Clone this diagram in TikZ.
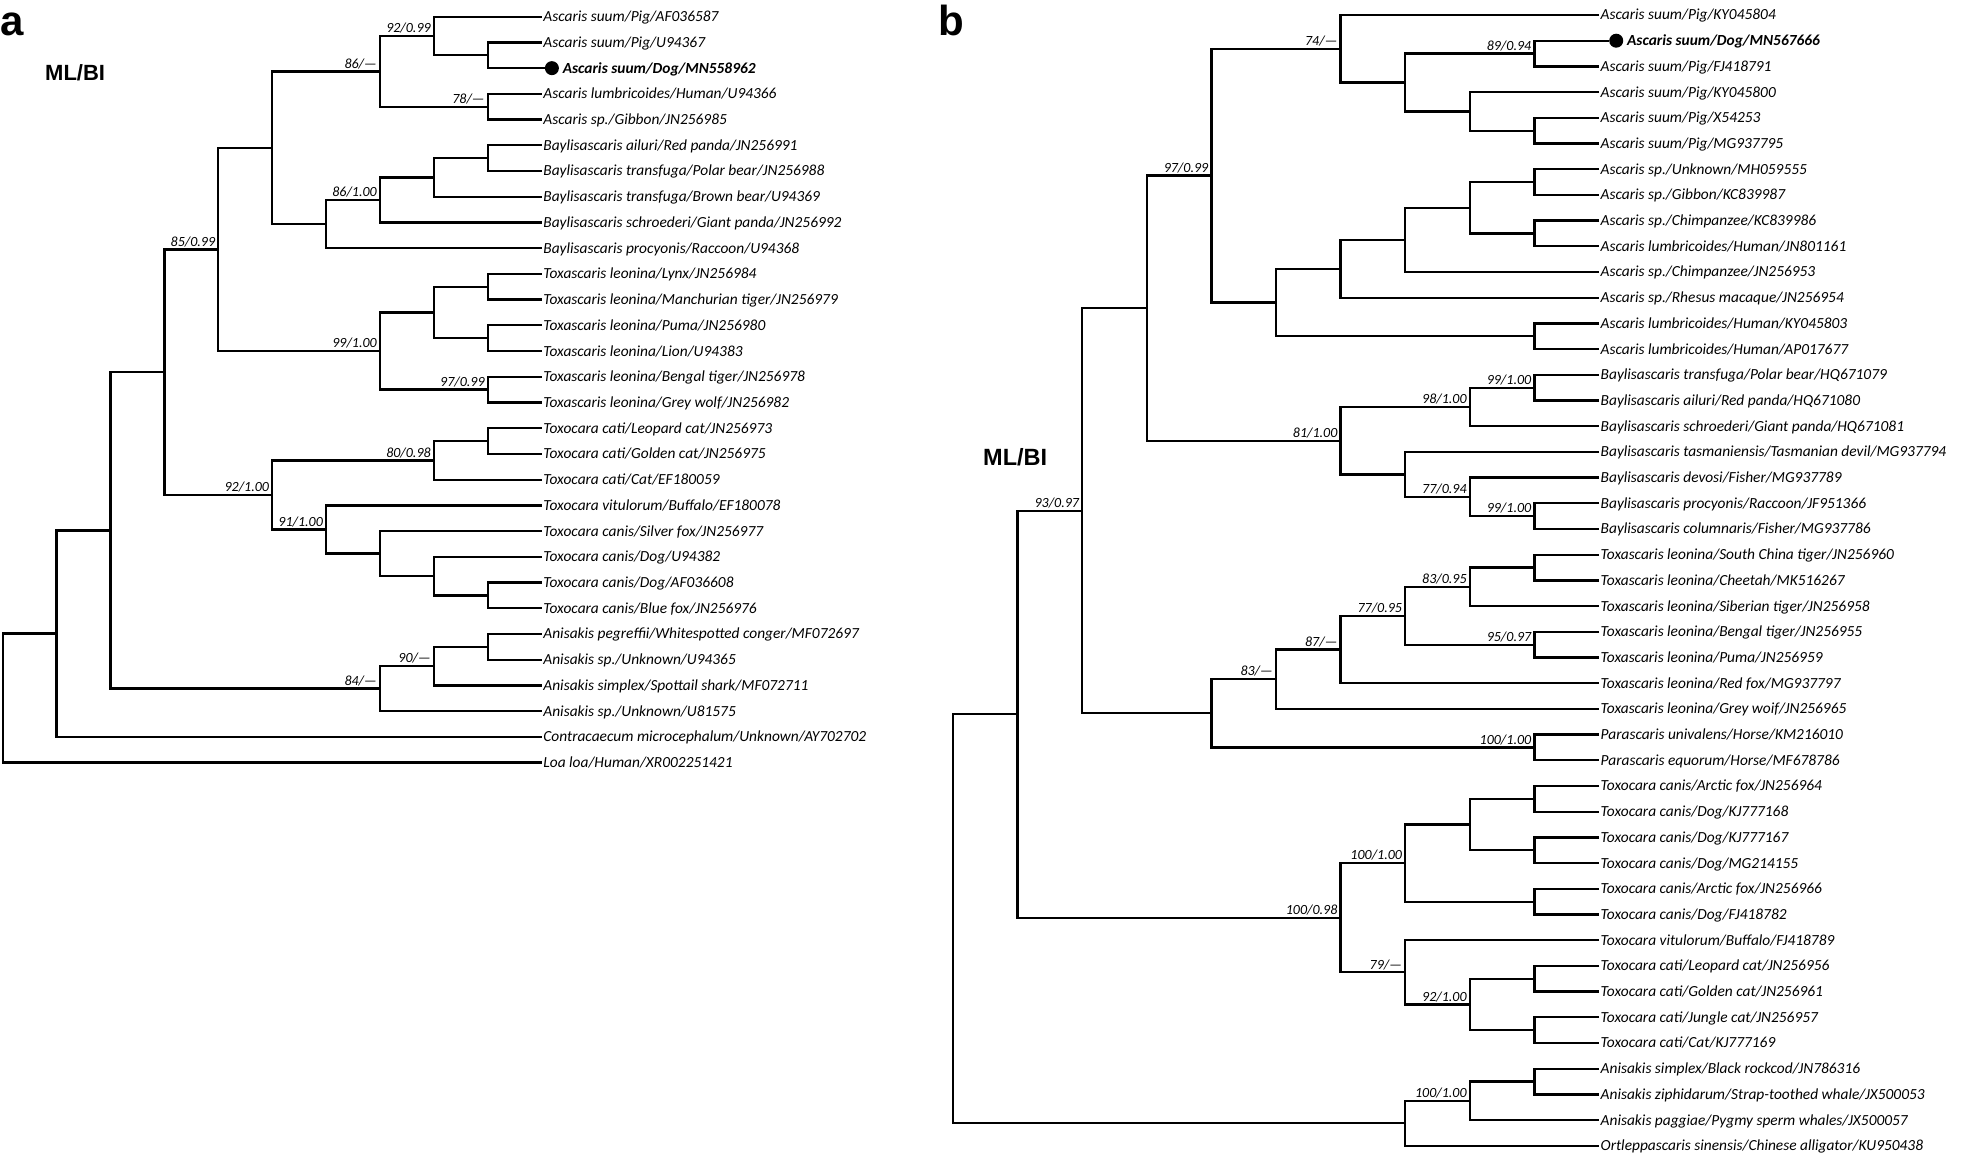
\documentclass[tikz,border=0pt]{standalone}
\usepackage{fontspec}
\setmainfont{Carlito}
\newfontfamily\headfont{Liberation Sans}
\usetikzlibrary{positioning}

\begin{document}
\begin{tikzpicture}[
    x=1pt, y=-1pt,
    leaf/.style={
        anchor=west,
        inner xsep=1.5pt,
        inner ysep=0pt,
        text height=9.9pt,
        text depth=0pt,
        font=\fontsize{15.4}{18}\selectfont\itshape
    },
    boldleaf/.style={
        leaf,
        font=\fontsize{15.4}{18}\selectfont\bfseries\itshape
    },
    seqdot/.style={
        circle,
        fill,
        inner sep=0pt,
        minimum size=14pt,
        anchor=west
    },
    support/.style={
        anchor=base east,
        inner sep=0pt,
        xshift=-3pt,
        yshift=3.2pt,
        font=\fontsize{14}{16}\selectfont\itshape
    },
    branch/.style={
        line width=2.3pt
    },
    panel/.style={
        anchor=base west,
        inner sep=0pt,
        font=\headfont\fontsize{42}{48}\selectfont\bfseries
    },
    method/.style={
        anchor=base west,
        inner sep=0pt,
        font=\headfont\bfseries
    }
]

\useasboundingbox (0,0) rectangle (1961,1157);

\node[panel] (panela) at (0.4,35) {a};
\node[panel] (panelb) at (938,35) {b};
\node[method, font=\headfont\fontsize{22}{26}\selectfont\bfseries] (mla) at (45,80) {ML/BI};
\node[method, font=\headfont\fontsize{23.5}{28}\selectfont\bfseries] (mlb) at (983,465) {ML/BI};

% tree a
\begin{scope}[shift={(2.7,-9.02)}, x=53.9pt, y=-25.72pt]

\node[leaf] (a1) at (10,1) {Ascaris suum/Pig/AF036587};
\node[leaf] (a2) at (10,2) {Ascaris suum/Pig/U94367};
\node[seqdot, xshift=3pt] (dota3) at (10,3) {};
\node[boldleaf, right=2pt of dota3] (a3) {Ascaris suum/Dog/MN558962};
\node[leaf] (a4) at (10,4) {Ascaris lumbricoides/Human/U94366};
\node[leaf] (a5) at (10,5) {Ascaris sp./Gibbon/JN256985};
\node[leaf] (a6) at (10,6) {Baylisascaris ailuri/Red panda/JN256991};
\node[leaf] (a7) at (10,7) {Baylisascaris transfuga/Polar bear/JN256988};
\node[leaf] (a8) at (10,8) {Baylisascaris transfuga/Brown bear/U94369};
\node[leaf] (a9) at (10,9) {Baylisascaris schroederi/Giant panda/JN256992};
\node[leaf] (a10) at (10,10) {Baylisascaris procyonis/Raccoon/U94368};
\node[leaf] (a11) at (10,11) {Toxascaris leonina/Lynx/JN256984};
\node[leaf] (a12) at (10,12) {Toxascaris leonina/Manchurian tiger/JN256979};
\node[leaf] (a13) at (10,13) {Toxascaris leonina/Puma/JN256980};
\node[leaf] (a14) at (10,14) {Toxascaris leonina/Lion/U94383};
\node[leaf] (a15) at (10,15) {Toxascaris leonina/Bengal tiger/JN256978};
\node[leaf] (a16) at (10,16) {Toxascaris leonina/Grey wolf/JN256982};
\node[leaf] (a17) at (10,17) {Toxocara cati/Leopard cat/JN256973};
\node[leaf] (a18) at (10,18) {Toxocara cati/Golden cat/JN256975};
\node[leaf] (a19) at (10,19) {Toxocara cati/Cat/EF180059};
\node[leaf] (a20) at (10,20) {Toxocara vitulorum/Buffalo/EF180078};
\node[leaf] (a21) at (10,21) {Toxocara canis/Silver fox/JN256977};
\node[leaf] (a22) at (10,22) {Toxocara canis/Dog/U94382};
\node[leaf] (a23) at (10,23) {Toxocara canis/Dog/AF036608};
\node[leaf] (a24) at (10,24) {Toxocara canis/Blue fox/JN256976};
\node[leaf] (a25) at (10,25) {Anisakis pegreffii/Whitespotted conger/MF072697};
\node[leaf] (a26) at (10,26) {Anisakis sp./Unknown/U94365};
\node[leaf] (a27) at (10,27) {Anisakis simplex/Spottail shark/MF072711};
\node[leaf] (a28) at (10,28) {Anisakis sp./Unknown/U81575};
\node[leaf] (a29) at (10,29) {Contracaecum microcephalum/Unknown/AY702702};
\node[leaf] (a30) at (10,30) {Loa loa/Human/XR002251421};

\coordinate (L1) at (9,2.5);
\coordinate (L2) at (8,1.75);
\coordinate (L3) at (9,4.5);
\coordinate (L4) at (7,3.125);
\coordinate (L5) at (9,6.5);
\coordinate (L6) at (8,7.25);
\coordinate (L7) at (7,8.125);
\coordinate (L8) at (6,9.0625);
\coordinate (L9) at (5,6.09375);
\coordinate (L10) at (9,11.5);
\coordinate (L11) at (9,13.5);
\coordinate (L12) at (8,12.5);
\coordinate (L13) at (9,15.5);
\coordinate (L14) at (7,14);
\coordinate (L15) at (4,10.046875);
\coordinate (L16) at (9,17.5);
\coordinate (L17) at (8,18.25);
\coordinate (L18) at (9,23.5);
\coordinate (L19) at (8,22.75);
\coordinate (L20) at (7,21.875);
\coordinate (L21) at (6,20.9375);
\coordinate (L22) at (5,19.59375);
\coordinate (L23) at (3,14.8203125);
\coordinate (L24) at (9,25.5);
\coordinate (L25) at (8,26.25);
\coordinate (L26) at (7,27.125);
\coordinate (L27) at (2,20.97265625);
\coordinate (L28) at (1,24.986328125);
\coordinate (L29) at (0,27.4931640625);

\draw[branch] (a2.west) -| (L1) |- (dota3.west);
\draw[branch] (a1.west) -| (L2) |- (L1);
\draw[branch] (a4.west) -| (L3) |- (a5.west);
\draw[branch] (L2) -| (L4) |- (L3);
\draw[branch] (a6.west) -| (L5) |- (a7.west);
\draw[branch] (L5) -| (L6) |- (a8.west);
\draw[branch] (L6) -| (L7) |- (a9.west);
\draw[branch] (L7) -| (L8) |- (a10.west);
\draw[branch] (L4) -| (L9) |- (L8);
\draw[branch] (a11.west) -| (L10) |- (a12.west);
\draw[branch] (a13.west) -| (L11) |- (a14.west);
\draw[branch] (L10) -| (L12) |- (L11);
\draw[branch] (a15.west) -| (L13) |- (a16.west);
\draw[branch] (L12) -| (L14) |- (L13);
\draw[branch] (L9) -| (L15) |- (L14);
\draw[branch] (a17.west) -| (L16) |- (a18.west);
\draw[branch] (L16) -| (L17) |- (a19.west);
\draw[branch] (a23.west) -| (L18) |- (a24.west);
\draw[branch] (a22.west) -| (L19) |- (L18);
\draw[branch] (a21.west) -| (L20) |- (L19);
\draw[branch] (a20.west) -| (L21) |- (L20);
\draw[branch] (L17) -| (L22) |- (L21);
\draw[branch] (L15) -| (L23) |- (L22);
\draw[branch] (a25.west) -| (L24) |- (a26.west);
\draw[branch] (L24) -| (L25) |- (a27.west);
\draw[branch] (L25) -| (L26) |- (a28.west);
\draw[branch] (L23) -| (L27) |- (L26);
\draw[branch] (L27) -| (L28) |- (a29.west);
\draw[branch] (L28) -| (L29) |- (a30.west);

\node[support] (sL2) at (L2) {92/0.99};
\node[support] (sL3) at (L3) {78/—};
\node[support] (sL4) at (L4) {86/—};
\node[support] (sL7) at (L7) {86/1.00};
\node[support] (sL13) at (L13) {97/0.99};
\node[support] (sL14) at (L14) {99/1.00};
\node[support] (sL15) at (L15) {85/0.99};
\node[support] (sL17) at (L17) {80/0.98};
\node[support] (sL21) at (L21) {91/1.00};
\node[support] (sL22) at (L22) {92/1.00};
\node[support] (sL25) at (L25) {90/—};
\node[support] (sL26) at (L26) {84/—};

\end{scope}

% tree b
\begin{scope}[shift={(953,-10.7)}, x=64.6pt, y=-25.7pt]

\node[leaf] (b1) at (10,1) {Ascaris suum/Pig/KY045804};
\node[seqdot, xshift=10pt] (dotb2) at (10,2) {};
\node[boldleaf, right=2pt of dotb2] (b2) {Ascaris suum/Dog/MN567666};
\node[leaf] (b3) at (10,3) {Ascaris suum/Pig/FJ418791};
\node[leaf] (b4) at (10,4) {Ascaris suum/Pig/KY045800};
\node[leaf] (b5) at (10,5) {Ascaris suum/Pig/X54253};
\node[leaf] (b6) at (10,6) {Ascaris suum/Pig/MG937795};
\node[leaf] (b7) at (10,7) {Ascaris sp./Unknown/MH059555};
\node[leaf] (b8) at (10,8) {Ascaris sp./Gibbon/KC839987};
\node[leaf] (b9) at (10,9) {Ascaris sp./Chimpanzee/KC839986};
\node[leaf] (b10) at (10,10) {Ascaris lumbricoides/Human/JN801161};
\node[leaf] (b11) at (10,11) {Ascaris sp./Chimpanzee/JN256953};
\node[leaf] (b12) at (10,12) {Ascaris sp./Rhesus macaque/JN256954};
\node[leaf] (b13) at (10,13) {Ascaris lumbricoides/Human/KY045803};
\node[leaf] (b14) at (10,14) {Ascaris lumbricoides/Human/AP017677};
\node[leaf] (b15) at (10,15) {Baylisascaris transfuga/Polar bear/HQ671079};
\node[leaf] (b16) at (10,16) {Baylisascaris ailuri/Red panda/HQ671080};
\node[leaf] (b17) at (10,17) {Baylisascaris schroederi/Giant panda/HQ671081};
\node[leaf] (b18) at (10,18) {Baylisascaris tasmaniensis/Tasmanian devil/MG937794};
\node[leaf] (b19) at (10,19) {Baylisascaris devosi/Fisher/MG937789};
\node[leaf] (b20) at (10,20) {Baylisascaris procyonis/Raccoon/JF951366};
\node[leaf] (b21) at (10,21) {Baylisascaris columnaris/Fisher/MG937786};
\node[leaf] (b22) at (10,22) {Toxascaris leonina/South China tiger/JN256960};
\node[leaf] (b23) at (10,23) {Toxascaris leonina/Cheetah/MK516267};
\node[leaf] (b24) at (10,24) {Toxascaris leonina/Siberian tiger/JN256958};
\node[leaf] (b25) at (10,25) {Toxascaris leonina/Bengal tiger/JN256955};
\node[leaf] (b26) at (10,26) {Toxascaris leonina/Puma/JN256959};
\node[leaf] (b27) at (10,27) {Toxascaris leonina/Red fox/MG937797};
\node[leaf] (b28) at (10,28) {Toxascaris leonina/Grey woif/JN256965};
\node[leaf] (b29) at (10,29) {Parascaris univalens/Horse/KM216010};
\node[leaf] (b30) at (10,30) {Parascaris equorum/Horse/MF678786};
\node[leaf] (b31) at (10,31) {Toxocara canis/Arctic fox/JN256964};
\node[leaf] (b32) at (10,32) {Toxocara canis/Dog/KJ777168};
\node[leaf] (b33) at (10,33) {Toxocara canis/Dog/KJ777167};
\node[leaf] (b34) at (10,34) {Toxocara canis/Dog/MG214155};
\node[leaf] (b35) at (10,35) {Toxocara canis/Arctic fox/JN256966};
\node[leaf] (b36) at (10,36) {Toxocara canis/Dog/FJ418782};
\node[leaf] (b37) at (10,37) {Toxocara vitulorum/Buffalo/FJ418789};
\node[leaf] (b38) at (10,38) {Toxocara cati/Leopard cat/JN256956};
\node[leaf] (b39) at (10,39) {Toxocara cati/Golden cat/JN256961};
\node[leaf] (b40) at (10,40) {Toxocara cati/Jungle cat/JN256957};
\node[leaf] (b41) at (10,41) {Toxocara cati/Cat/KJ777169};
\node[leaf] (b42) at (10,42) {Anisakis simplex/Black rockcod/JN786316};
\node[leaf] (b43) at (10,43) {Anisakis ziphidarum/Strap-toothed whale/JX500053};
\node[leaf] (b44) at (10,44) {Anisakis paggiae/Pygmy sperm whales/JX500057};
\node[leaf] (b45) at (10,45) {Ortleppascaris sinensis/Chinese alligator/KU950438};

\coordinate (R1) at (9,2.5);
\coordinate (R2) at (9,5.5);
\coordinate (R3) at (8,4.75);
\coordinate (R4) at (7,3.625);
\coordinate (R5) at (6,2.3125);
\coordinate (R6) at (9,7.5);
\coordinate (R7) at (9,9.5);
\coordinate (R8) at (8,8.5);
\coordinate (R9) at (7,9.75);
\coordinate (R10) at (6,10.875);
\coordinate (R11) at (9,13.5);
\coordinate (R12) at (5,12.1875);
\coordinate (R13) at (4,7.25);
\coordinate (R14) at (9,15.5);
\coordinate (R15) at (8,16.25);
\coordinate (R16) at (9,20.5);
\coordinate (R17) at (8,19.75);
\coordinate (R18) at (7,18.875);
\coordinate (R19) at (6,17.5625);
\coordinate (R20) at (3,12.40625);
\coordinate (R21) at (9,22.5);
\coordinate (R22) at (8,23.25);
\coordinate (R23) at (9,25.5);
\coordinate (R24) at (7,24.375);
\coordinate (R25) at (6,25.6875);
\coordinate (R26) at (5,26.84375);
\coordinate (R27) at (9,29.5);
\coordinate (R28) at (4,28.171875);
\coordinate (R29) at (2,20.2890625);
\coordinate (R30) at (9,31.5);
\coordinate (R31) at (9,33.5);
\coordinate (R32) at (8,32.5);
\coordinate (R33) at (9,35.5);
\coordinate (R34) at (7,34);
\coordinate (R35) at (9,38.5);
\coordinate (R36) at (9,40.5);
\coordinate (R37) at (8,39.5);
\coordinate (R38) at (7,38.25);
\coordinate (R39) at (6,36.125);
\coordinate (R40) at (1,28.20703125);
\coordinate (R41) at (9,42.5);
\coordinate (R42) at (8,43.25);
\coordinate (R43) at (7,44.125);
\coordinate (R44) at (0,36.166015625);

\draw[branch] (dotb2.west) -| (R1) |- (b3.west);
\draw[branch] (b5.west) -| (R2) |- (b6.west);
\draw[branch] (b4.west) -| (R3) |- (R2);
\draw[branch] (R1) -| (R4) |- (R3);
\draw[branch] (b1.west) -| (R5) |- (R4);
\draw[branch] (b7.west) -| (R6) |- (b8.west);
\draw[branch] (b9.west) -| (R7) |- (b10.west);
\draw[branch] (R6) -| (R8) |- (R7);
\draw[branch] (R8) -| (R9) |- (b11.west);
\draw[branch] (R9) -| (R10) |- (b12.west);
\draw[branch] (b13.west) -| (R11) |- (b14.west);
\draw[branch] (R10) -| (R12) |- (R11);
\draw[branch] (R5) -| (R13) |- (R12);
\draw[branch] (b15.west) -| (R14) |- (b16.west);
\draw[branch] (R14) -| (R15) |- (b17.west);
\draw[branch] (b20.west) -| (R16) |- (b21.west);
\draw[branch] (b19.west) -| (R17) |- (R16);
\draw[branch] (b18.west) -| (R18) |- (R17);
\draw[branch] (R15) -| (R19) |- (R18);
\draw[branch] (R13) -| (R20) |- (R19);
\draw[branch] (b22.west) -| (R21) |- (b23.west);
\draw[branch] (R21) -| (R22) |- (b24.west);
\draw[branch] (b25.west) -| (R23) |- (b26.west);
\draw[branch] (R22) -| (R24) |- (R23);
\draw[branch] (R24) -| (R25) |- (b27.west);
\draw[branch] (R25) -| (R26) |- (b28.west);
\draw[branch] (b29.west) -| (R27) |- (b30.west);
\draw[branch] (R26) -| (R28) |- (R27);
\draw[branch] (R20) -| (R29) |- (R28);
\draw[branch] (b31.west) -| (R30) |- (b32.west);
\draw[branch] (b33.west) -| (R31) |- (b34.west);
\draw[branch] (R30) -| (R32) |- (R31);
\draw[branch] (b35.west) -| (R33) |- (b36.west);
\draw[branch] (R32) -| (R34) |- (R33);
\draw[branch] (b38.west) -| (R35) |- (b39.west);
\draw[branch] (b40.west) -| (R36) |- (b41.west);
\draw[branch] (R35) -| (R37) |- (R36);
\draw[branch] (b37.west) -| (R38) |- (R37);
\draw[branch] (R34) -| (R39) |- (R38);
\draw[branch] (R29) -| (R40) |- (R39);
\draw[branch] (b42.west) -| (R41) |- (b43.west);
\draw[branch] (R41) -| (R42) |- (b44.west);
\draw[branch] (R42) -| (R43) |- (b45.west);
\draw[branch] (R40) -| (R44) |- (R43);

\node[support] (sR1) at (R1) {89/0.94};
\node[support] (sR5) at (R5) {74/—};
\node[support] (sR13) at (R13) {97/0.99};
\node[support] (sR14) at (R14) {99/1.00};
\node[support] (sR15) at (R15) {98/1.00};
\node[support] (sR16) at (R16) {99/1.00};
\node[support] (sR17) at (R17) {77/0.94};
\node[support] (sR19) at (R19) {81/1.00};
\node[support] (sR22) at (R22) {83/0.95};
\node[support] (sR23) at (R23) {95/0.97};
\node[support] (sR24) at (R24) {77/0.95};
\node[support] (sR25) at (R25) {87/—};
\node[support] (sR26) at (R26) {83/—};
\node[support] (sR27) at (R27) {100/1.00};
\node[support] (sR29) at (R29) {93/0.97};
\node[support] (sR34) at (R34) {100/1.00};
\node[support] (sR37) at (R37) {92/1.00};
\node[support] (sR38) at (R38) {79/—};
\node[support] (sR39) at (R39) {100/0.98};
\node[support] (sR42) at (R42) {100/1.00};

\end{scope}

\end{tikzpicture}
\end{document}
